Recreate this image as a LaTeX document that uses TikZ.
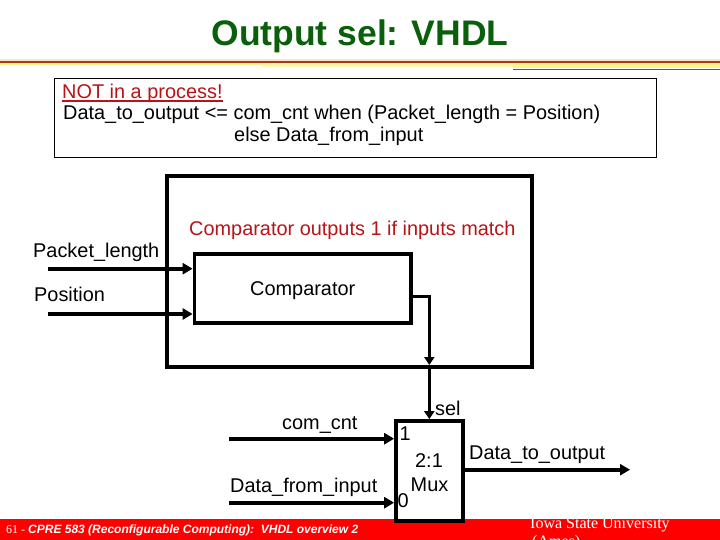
\documentclass[tikz,border=0pt]{standalone}
\usepackage{fontspec}
\setmainfont{Liberation Sans}
\newfontfamily\timesf{Liberation Serif}
\usetikzlibrary{arrows.meta}
\definecolor{ttlgreen}{HTML}{0A5F0A}
\definecolor{txtred}{HTML}{B81418}
\definecolor{rulered}{HTML}{A63A10}
\definecolor{ruleyel}{HTML}{FFF38C}
\definecolor{rulepeach}{HTML}{FBE3D0}
\newcommand{\myul}[1]{\setbox0\hbox{#1}\rlap{\rule[-3.2pt]{\wd0}{1.9pt}}\box0}
\tikzset{
  txt/.style={anchor=base west,inner sep=0pt,font=\fontsize{19.9}{24}\selectfont},
  ctxt/.style={anchor=base,inner sep=0pt,font=\fontsize{19.9}{24}\selectfont},
  block/.style={draw=black,fill=white,inner sep=0pt},
  wire/.style={line width=4pt,-{Triangle[length=10pt,width=11pt]}},
  sline/.style={line width=3pt},
}
\begin{document}
\begin{tikzpicture}[x=1pt,y=-1pt]
\useasboundingbox (0,0) rectangle (720,540);
\fill[white] (0,0) rectangle (720,540);
% header rules
\fill[rulepeach] (0,59.5) rectangle (720,61);
\fill[ruleyel] (0,63) rectangle (262,65.5);
\fill[ruleyel!70] (262,63) rectangle (513,67);
\fill[ruleyel] (513,63) rectangle (720,68);
\fill[rulered] (0,61) rectangle (720,63.2);
\fill[rulered] (513,68.6) rectangle (720,69.8);
% footer
\fill[red] (0,519) rectangle (720,540);
% title
\node[anchor=base,inner sep=0pt,text=ttlgreen,font=\fontsize{35.5}{40}\selectfont\bfseries] (title) at (360,46) {Output sel: VHDL};
% code box
\node[block,line width=1pt,minimum width=602pt,minimum height=79pt] (codebox) at (355.5,118.5) {};
\node[txt,text=txtred] (code1) at (62,99) {\myul{NOT in a process!}};
\node[txt] (code2) at (63,120) {Data\_to\_output <= com\_cnt when (Packet\_length = Position)};
\node[txt] (code3) at (234,142) {else Data\_from\_input};
% blocks
\node[block,line width=4pt,minimum width=365pt,minimum height=191pt] (outer) at (349.5,271.5) {};
\node[block,line width=3.7pt,minimum width=216.5pt,minimum height=69pt] (cmp) at (302.75,288.5) {};
\node[block,line width=3.7pt,minimum width=67pt,minimum height=100pt] (mux) at (429.5,471) {};
% labels
\node[txt,text=txtred] (note) at (189,235.5) {Comparator outputs 1 if inputs match};
\node[txt] (lpl) at (33,257) {Packet\_length};
\node[txt] (lpos) at (34,301.7) {Position};
\node[txt] (lcmp) at (250,295) {Comparator};
\node[txt] (lcom) at (282,429) {com\_cnt};
\node[txt] (lfrom) at (230,492.7) {Data\_from\_input};
\node[txt] (lsel) at (435,415.7) {sel};
\node[txt] (lone) at (399.5,440.7) {1};
\node[txt] (lzero) at (397.5,507) {0};
\node[ctxt] (l21) at (429,467) {2:1};
\node[ctxt] (lmux) at (429.5,491) {Mux};
\node[txt] (lout) at (469,459) {Data\_to\_output};
% wires
\coordinate (inpl) at (48,268.7);
\coordinate (inpos) at (48,314);
\coordinate (incom) at (229,438.7);
\coordinate (infrom) at (229,502.7);
\coordinate (outend) at (630,469.7);
\coordinate (cmpout) at (411,296);
\coordinate (bend) at (429.3,296);
\coordinate (jn) at (429.3,365);
\coordinate (jn2) at (429.3,369);
\draw[wire] (inpl) -- (inpl -| cmp.west);
\draw[wire] (inpos) -- (inpos -| cmp.west);
\draw[wire] (incom) -- (incom -| mux.west);
\draw[wire] (infrom) -- (infrom -| mux.west);
\draw[wire] (outend -| mux.east) -- (outend);
\draw[sline,-{Triangle[length=8pt,width=10pt]}] (cmpout) -- (bend) -- (jn);
\draw[sline,-{Triangle[length=8pt,width=10pt]}] (jn2) -- (jn2 |- mux.north);
% footer text
\node[anchor=base west,inner sep=0pt,text=white,font=\fontsize{12}{15}\selectfont] (foot) at (6,533) {{\timesf 61 - }\textbf{\textit{CPRE 583 (Reconfigurable Computing):\ \ VHDL overview 2}}};
\node[anchor=base west,inner sep=0pt,text=white,font=\timesf\fontsize{16}{18}\selectfont] (isu) at (530,528) {Iowa State University};
\node[anchor=base west,inner sep=0pt,text=white,font=\timesf\fontsize{16}{18}\selectfont] (ames) at (532,546) {(Ames)};
\end{tikzpicture}
\end{document}
